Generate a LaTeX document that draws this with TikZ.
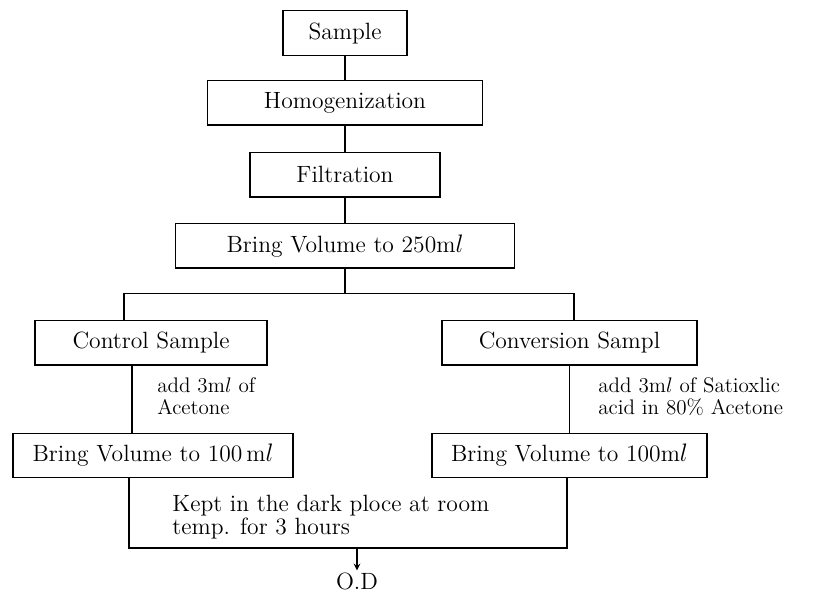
\documentclass[tikz,border=0pt]{standalone}
\usepackage{amsmath}
\usepackage{xcolor}
\usepackage{tikz}
\usetikzlibrary{positioning,shapes,arrows}
\tikzstyle{stepbox}=[rectangle, draw=black, line width=0.8pt, inner sep=0pt,
        text centered, minimum height=0.89cm, font=\fontsize{13.4pt}{16pt}\selectfont]
\tikzstyle{note}=[inner sep=0pt, align=left, font=\fontsize{12pt}{12.5pt}\selectfont]
\tikzstyle{myarrow}=[->, >=stealth, line width=0.7pt]
\tikzstyle{line}=[-, line width=0.8pt]

\begin{document}
\begin{tikzpicture}[x=0.02cm, y=-0.02cm]
    \useasboundingbox (0,0) rectangle (813,592);
    % main column
    \node (Sample) [stepbox, minimum width=2.48cm] at (345,33) {Sample};
    \node (Homog) [stepbox, minimum width=5.5cm, below=0.48cm of Sample] {Homogenization};
    \node (Filtr) [stepbox, minimum width=3.8cm, below=0.52cm of Homog] {Filtration};
    \node (BringA) [stepbox, minimum width=6.78cm, below=0.5cm of Filtr] {Bring Volume to 250m$l$};
    % two branches
    \node (Control) [stepbox, minimum width=4.64cm, below=1.02cm of BringA, xshift=-3.88cm] {Control Sample};
    \node (Convert) [stepbox, minimum width=5.1cm, below=1.02cm of BringA, xshift=4.49cm] {Conversion Sampl};
    \node (BringB) [stepbox, minimum width=5.6cm, below=1.34cm of Control, xshift=0.04cm] {Bring Volume to 100\,m$l$};
    \node (BringC) [stepbox, minimum width=5.5cm, below=1.34cm of Convert] {Bring Volume to 100m$l$};
    \node (AcetA) [note, anchor=north west] at (157,377) {add 3m$l$ of\\Acetone};
    \node (AcetB) [note, anchor=north west] at (598,377) {add 3m$l$ of Satioxlic\\acid in 80\% Acetone};
    \node (Kept) [note, anchor=north west, font=\fontsize{13.4pt}{12pt}\selectfont] at (172,495)
        {Kept in the dark ploce at room\\temp. for 3 hours};
    \node (OD) [inner sep=1pt, font=\fontsize{13.4pt}{16pt}\selectfont] at (357,581) {O.D};
    \coordinate (Split) at ([yshift=-0.5cm]BringA.south);
    \coordinate (KeptLeft) at ([xshift=-0.48cm]BringB.south);
    \coordinate (KeptBase) at (357,548);

    \draw[line] (Sample) -- (Homog);
    \draw[line] (Homog) -- (Filtr);
    \draw[line] (Filtr) -- (BringA);
    \draw[line] (BringA.south) -- (Split);
    \draw[line] ([xshift=-0.54cm]Control.north) |- (Split) -| ([xshift=0.09cm]Convert.north);
    \draw[line] ([xshift=-0.38cm]Control.south) -- ([xshift=-0.38cm]Control.south |- BringB.north);
    \draw[line] (Convert.south) -- (Convert.south |- BringC.north);
    \draw[line] (KeptLeft) |- (KeptBase) -| ([xshift=-0.05cm]BringC.south);
    \draw[myarrow] (KeptBase) -- (OD.north);
\end{tikzpicture}
\end{document}
